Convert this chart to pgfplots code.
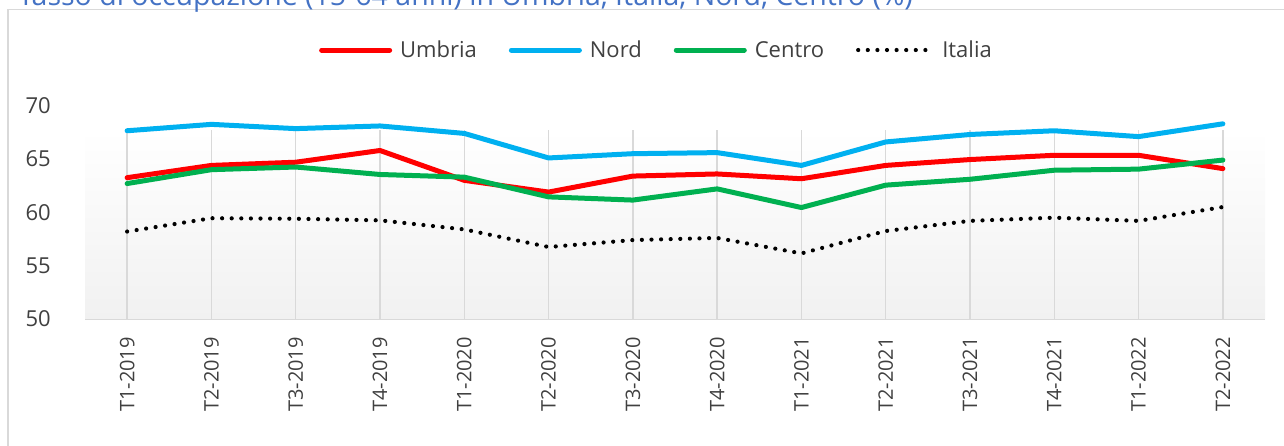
\documentclass[border=0pt]{standalone}
\usepackage{fontspec}
\setmainfont{Open Sans}
\usepackage{pgfplots}
\pgfplotsset{compat=1.18}

\definecolor{umbria}{RGB}{255,0,0}
\definecolor{nord}{RGB}{0,176,240}
\definecolor{centro}{RGB}{0,176,80}
\definecolor{txt}{RGB}{64,64,64}
\definecolor{gridc}{RGB}{217,217,217}
\definecolor{titleblue}{RGB}{68,114,196}

\begin{document}
\begin{tikzpicture}[x=1pt,y=1pt]
% chart frame, cut by the page on the right and bottom
\draw[gridc, line width=1.5pt] (8,-10) -- (8,436.5) -- (1300,436.5);
% title, only its lower part lies on the page
\node[anchor=base west, inner sep=0pt, text=titleblue,
      font=\fontsize{28.5}{32}\selectfont] at (18,440)
  {Tasso di occupazione (15-64 anni) in Umbria, Italia, Nord, Centro (\%)};

\begin{axis}[
    at={(85pt,127pt)}, anchor=south west,
    width=1180pt, height=213.3pt, scale only axis,
    set layers,
    xmin=-0.5, xmax=13.5,
    ymin=50, ymax=70,
    xtick={0,...,13},
    xticklabels={T1-2019,T2-2019,T3-2019,T4-2019,T1-2020,T2-2020,T3-2020,
                 T4-2020,T1-2021,T2-2021,T3-2021,T4-2021,T1-2022,T2-2022},
    ytick={50,55,60,65,70},
    major tick length=0pt,
    axis x line*=bottom, axis y line*=left,
    x axis line style={gridc, line width=1.5pt, -},
    y axis line style={draw=none},
    xticklabel style={rotate=90, anchor=east, inner sep=0pt, text=txt,
                      font=\fontsize{20}{24}\selectfont},
    yticklabel style={anchor=east, inner sep=0pt, text=txt,
                      font=\fontsize{22}{26}\selectfont},
    xticklabel shift=18pt,
    yticklabel shift=34pt,
    /pgf/number format/assume math mode=true,
    legend style={at={(0.4843,1.261)}, anchor=center, draw=none, fill=none,
                  inner sep=0pt, text=txt, font=\fontsize{22}{26}\selectfont,
                  /tikz/every odd column/.append style={column sep=6pt},
                  /tikz/every even column/.append style={column sep=30pt}},
    legend columns=4,
    legend image code/.code={\draw[#1] (0pt,0pt) -- (68pt,0pt);},
    every axis plot/.append style={line join=round, line cap=round},
]
\fill[on layer=axis background, top color=white, bottom color={rgb,255:red,241;green,241;blue,241}]
    (axis cs:-0.5,50) rectangle (axis cs:13.5,67.72);
\pgfplotsinvokeforeach{0,...,13}{
  \draw[on layer=axis background, gridc, line width=1.5pt] (axis cs:#1,50) -- (axis cs:#1,67.72);
}

\addplot[umbria, line width=5pt] coordinates {
 (0,63.25) (1,64.4) (2,64.7) (3,65.8) (4,63.0) (5,61.9) (6,63.4)
 (7,63.6) (8,63.15) (9,64.4) (10,64.95) (11,65.35) (12,65.35) (13,64.1)};
\addlegendentry{Umbria}
\addplot[nord, line width=5pt] coordinates {
 (0,67.65) (1,68.25) (2,67.85) (3,68.1) (4,67.4) (5,65.1) (6,65.5)
 (7,65.6) (8,64.4) (9,66.6) (10,67.3) (11,67.65) (12,67.1) (13,68.3)};
\addlegendentry{Nord}
\addplot[centro, line width=5pt] coordinates {
 (0,62.7) (1,64.0) (2,64.25) (3,63.55) (4,63.3) (5,61.45) (6,61.15)
 (7,62.2) (8,60.45) (9,62.55) (10,63.1) (11,63.95) (12,64.05) (13,64.9)};
\addlegendentry{Centro}
\addplot[black, line width=4.2pt, dash pattern=on 0pt off 9.6pt] coordinates {
 (0,58.2) (1,59.45) (2,59.4) (3,59.25) (4,58.4) (5,56.75) (6,57.4)
 (7,57.6) (8,56.15) (9,58.25) (10,59.2) (11,59.5) (12,59.2) (13,60.5)};
\addlegendentry{\hspace{6pt}Italia}
\end{axis}

\pgfresetboundingbox
\useasboundingbox (0,0) rectangle (1284,446);
\end{tikzpicture}
\end{document}
